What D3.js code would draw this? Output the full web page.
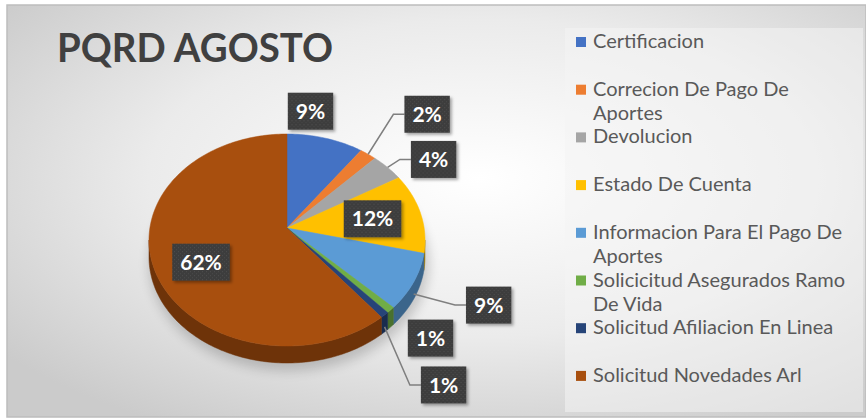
<!DOCTYPE html>
<html>
<head>
<meta charset="utf-8">
<script src="https://cdn.jsdelivr.net/npm/d3@7"></script>
<style>
  html, body { margin: 0; padding: 0; background: #fff; }
  svg { display: block; }
</style>
</head>
<body>
<svg id="chart" width="866" height="419"></svg>
<script>
// chart data
var categories = [
  'Certificacion',
  'Correcion De Pago De Aportes',
  'Devolucion',
  'Estado De Cuenta',
  'Informacion Para El Pago De Aportes',
  'Solicicitud Asegurados Ramo De Vida',
  'Solicitud Afiliacion En Linea',
  'Solicitud Novedades Arl'
];
var values = [9, 2, 4, 12, 9, 1, 1, 62];
var colors = ['#4472C4', '#ED7D31', '#A5A5A5', '#FFC000', '#5B9BD5', '#70AD47', '#264478', '#A84F0E'];
var title = 'PQRD AGOSTO';

// label placement (inside fraction or offset from the slice rim)
var labelPlacement = [
  {dx: -15, dy: -27},
  {dx: 59, dy: -40, leader: true},
  {dx: 46, dy: -8, leader: true},
  {f: 0.64},
  {dx: 75, dy: 23, leader: true},
  {dx: 40, dy: 28},
  {dx: 59, dy: 70, leader: true},
  {f: 0.67}
];

var svg = d3.select('#chart');
var W = 866, H = 419;

//////////////////
// Definitions  //
//////////////////
var defs = svg.append('defs');

var bg = defs.append('radialGradient')
  .attr('id', 'bgGrad')
  .attr('cx', '55%').attr('cy', '42%').attr('r', '70%');
bg.append('stop').attr('offset', '0%').attr('stop-color', '#ffffff');
bg.append('stop').attr('offset', '55%').attr('stop-color', '#ebebeb');
bg.append('stop').attr('offset', '100%').attr('stop-color', '#cbcbcb');

var dots = defs.append('pattern')
  .attr('id', 'dots')
  .attr('width', 4).attr('height', 4)
  .attr('patternUnits', 'userSpaceOnUse');
dots.append('rect').attr('width', 4).attr('height', 4).attr('fill', '#3d3d3d');
dots.append('rect').attr('x', 1).attr('y', 1).attr('width', 1).attr('height', 1).attr('fill', '#4f4f4f');
dots.append('rect').attr('x', 3).attr('y', 3).attr('width', 1).attr('height', 1).attr('fill', '#4a4a4a');

var boxShadow = defs.append('filter').attr('id', 'boxShadow')
  .attr('x', '-30%').attr('y', '-30%').attr('width', '160%').attr('height', '160%');
boxShadow.append('feDropShadow')
  .attr('dx', 2).attr('dy', 2).attr('stdDeviation', 1.5)
  .attr('flood-color', '#000').attr('flood-opacity', 0.35);

var pieShadow = defs.append('filter').attr('id', 'pieShadow')
  .attr('x', '-20%').attr('y', '-20%').attr('width', '140%').attr('height', '140%');
pieShadow.append('feGaussianBlur').attr('stdDeviation', 6);

////////////////
// Background //
////////////////
svg.append('rect')
  .attr('x', 7).attr('y', 5)
  .attr('width', W - 7).attr('height', 412)
  .attr('fill', 'url(#bgGrad)')
  .attr('stroke', '#bdbdbd')
  .attr('stroke-width', 1.5);

// legend panel
svg.append('rect')
  .attr('x', 565).attr('y', 28)
  .attr('width', 298).attr('height', 384)
  .attr('fill', '#f4f4f4')
  .attr('opacity', 0.55);

svg.append('text')
  .attr('x', 57).attr('y', 62)
  .attr('font-family', 'Lato, "Open Sans", sans-serif')
  .attr('font-weight', 700)
  .attr('font-size', 41)
  .attr('textLength', 276)
  .attr('lengthAdjust', 'spacingAndGlyphs')
  .attr('fill', '#404040')
  .text(title);

/////////////
// 3D pie  //
/////////////
var cx = 287, cy = 240, rx = 138, ry = 106, apexY = 228, depth = 17;

var rim = function(a) {
  return [cx + rx * Math.sin(a), cy - ry * Math.cos(a)];
};
var arcPoints = function(a0, a1, dy) {
  var n = Math.max(2, Math.ceil((a1 - a0) / 0.02));
  return d3.range(n + 1).map(function(i) {
    var p = rim(a0 + (a1 - a0) * i / n);
    return [p[0], p[1] + (dy || 0)];
  });
};
var line = d3.line();

var data = categories.map(function(c, i) {
  return {name: c, value: values[i], color: colors[i], place: labelPlacement[i]};
});
var arcs = d3.pie().sort(null).value(function(d) { return d.value; })(data);
var total = d3.sum(values);
var pct = d3.format('.0%');

var pieG = svg.append('g');

pieG.append('ellipse')
  .attr('cx', cx + 2).attr('cy', cy + depth + 6)
  .attr('rx', rx + 2).attr('ry', ry + 2)
  .attr('fill', '#000').attr('opacity', 0.18)
  .attr('filter', 'url(#pieShadow)');

// side walls, front half only
pieG.selectAll('.side')
  .data(arcs.filter(function(d) {
    return d.endAngle > Math.PI / 2 && d.startAngle < 3 * Math.PI / 2;
  }))
  .enter().append('path')
  .classed('side', true)
  .attr('d', function(d) {
    var a0 = Math.max(d.startAngle, Math.PI / 2);
    var a1 = Math.min(d.endAngle, 3 * Math.PI / 2);
    var top = arcPoints(a0, a1, 0);
    var bottom = arcPoints(a0, a1, depth).reverse();
    return line(top.concat(bottom)) + 'Z';
  })
  .attr('fill', function(d) { return d3.color(d.data.color).darker(1.2); })
  .attr('stroke', function(d) { return d3.color(d.data.color).darker(1.2); })
  .attr('stroke-width', 0.5);

// top faces
pieG.selectAll('.top')
  .data(arcs)
  .enter().append('path')
  .classed('top', true)
  .attr('d', function(d) {
    var pts = [[cx, apexY]].concat(arcPoints(d.startAngle, d.endAngle, 0));
    return line(pts) + 'Z';
  })
  .attr('fill', function(d) { return d.data.color; })
  .attr('stroke', function(d) { return d.data.color; })
  .attr('stroke-width', 0.5);

////////////
// Labels //
////////////
var labelPos = function(d) {
  var mid = (d.startAngle + d.endAngle) / 2;
  var p = rim(mid);
  var pl = d.data.place;
  if (pl.f !== undefined) {
    return [cx + pl.f * (p[0] - cx), apexY + pl.f * (p[1] - apexY)];
  }
  return [p[0] + pl.dx, p[1] + pl.dy];
};

var labelG = svg.append('g');
var labels = labelG.selectAll('.lbl')
  .data(arcs)
  .enter().append('g')
  .classed('lbl', true)
  .attr('transform', function(d) {
    var p = labelPos(d);
    return 'translate(' + p[0] + ',' + p[1] + ')';
  });

labels.append('rect')
  .attr('fill', 'url(#dots)')
  .attr('filter', 'url(#boxShadow)');

labels.append('text')
  .attr('text-anchor', 'middle')
  .attr('dy', '0.36em')
  .attr('font-family', 'Lato, "Open Sans", sans-serif')
  .attr('font-weight', 700)
  .attr('font-size', 21)
  .attr('fill', '#ffffff')
  .text(function(d) { return pct(d.value / total); });

labels.each(function(d) {
  var g = d3.select(this);
  var w = g.select('text').node().getComputedTextLength() + 16;
  d.boxW = w;
  g.select('rect')
    .attr('x', -w / 2).attr('y', -18.5)
    .attr('width', w).attr('height', 37);
});

// leader lines
labelG.selectAll('.leader')
  .data(arcs.filter(function(d) { return d.data.place.leader; }))
  .enter().insert('path', '.lbl')
  .classed('leader', true)
  .attr('d', function(d) {
    var mid = (d.startAngle + d.endAngle) / 2;
    var a = rim(mid);
    if (mid > Math.PI / 2 && mid < 3 * Math.PI / 2) {
      a = [a[0], a[1] + depth * 0.7];
    }
    var p = labelPos(d);
    var left = p[0] - d.boxW / 2;
    return line([a, [left - 11, p[1]], [left, p[1]]]);
  })
  .attr('fill', 'none')
  .attr('stroke', '#7f7f7f')
  .attr('stroke-width', 1.5);

////////////
// Legend //
////////////
var legX = 576, legTop = 41, legStep = 47.7, lineH = 24, maxW = 258;

var legend = svg.append('g')
  .attr('font-family', 'Lato, "Open Sans", sans-serif')
  .attr('font-size', 20)
  .attr('fill', '#595959');

var items = legend.selectAll('.leg')
  .data(data)
  .enter().append('g')
  .classed('leg', true)
  .attr('transform', function(d, i) {
    return 'translate(' + legX + ',' + (legTop + i * legStep) + ')';
  });

items.append('rect')
  .attr('x', 0).attr('y', -4)
  .attr('width', 10).attr('height', 10)
  .attr('fill', function(d) { return d.color; });

items.each(function(d) {
  var g = d3.select(this);
  var text = g.append('text').attr('x', 17).attr('y', 7);
  var words = d.name.split(' ');
  var cur = [];
  var tspan = text.append('tspan').attr('x', 17).attr('dy', 0);
  words.forEach(function(w) {
    cur.push(w);
    tspan.text(cur.join(' '));
    if (tspan.node().getComputedTextLength() > maxW && cur.length > 1) {
      cur.pop();
      tspan.text(cur.join(' '));
      cur = [w];
      tspan = text.append('tspan').attr('x', 17).attr('dy', lineH).text(w);
    }
  });
});
</script>
</body>
</html>
